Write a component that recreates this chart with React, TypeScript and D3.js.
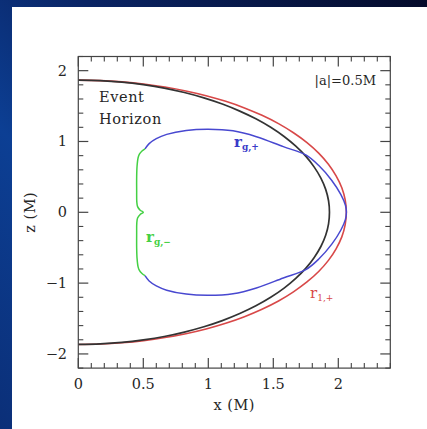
import React from "react";
import * as d3 from "d3";

// Event horizon (black), [x, z] in M
const horizonX = [0, 0.168, 0.336, 0.5, 0.661, 0.816, 0.966, 1.108, 1.242, 1.366, 1.48, 1.583, 1.673, 1.751, 1.815, 1.866, 1.903, 1.925, 1.932,
  1.925, 1.903, 1.866, 1.815, 1.751, 1.673, 1.583, 1.48, 1.366, 1.242, 1.108, 0.966, 0.816, 0.661, 0.5, 0.336, 0.168, 0];
const horizonZ = [1.866, 1.859, 1.838, 1.802, 1.754, 1.691, 1.616, 1.529, 1.429, 1.32, 1.2, 1.07, 0.933, 0.789, 0.638, 0.483, 0.324, 0.163, 0,
  -0.163, -0.324, -0.483, -0.638, -0.789, -0.933, -1.07, -1.2, -1.32, -1.429, -1.529, -1.616, -1.691, -1.754, -1.802, -1.838, -1.859, -1.866];

// r_{1,+} (red)
const ergoX = [0, 0.169, 0.336, 0.502, 0.666, 0.827, 0.983, 1.134, 1.278, 1.413, 1.54, 1.655, 1.759, 1.849, 1.924, 1.983, 2.027, 2.053, 2.062,
  2.053, 2.027, 1.983, 1.924, 1.849, 1.759, 1.655, 1.54, 1.413, 1.278, 1.134, 0.983, 0.827, 0.666, 0.502, 0.336, 0.169, 0];
const ergoZ = [1.866, 1.86, 1.842, 1.812, 1.769, 1.714, 1.647, 1.567, 1.474, 1.369, 1.252, 1.123, 0.984, 0.836, 0.679, 0.515, 0.347, 0.174, 0,
  -0.174, -0.347, -0.515, -0.679, -0.836, -0.984, -1.123, -1.252, -1.369, -1.474, -1.567, -1.647, -1.714, -1.769, -1.812, -1.842, -1.86, -1.866];

// r_{g,+} (blue)
const gPlusX = [0.513, 0.545, 0.6, 0.68, 0.83, 1.0, 1.19, 1.37, 1.577, 1.75, 1.85, 1.95, 2.02, 2.055, 2.062,
  2.055, 2.02, 1.95, 1.85, 1.75, 1.577, 1.37, 1.19, 1.0, 0.83, 0.68, 0.6, 0.545, 0.513];
const gPlusZ = [0.895, 0.97, 1.04, 1.1, 1.155, 1.172, 1.15, 1.068, 0.927, 0.81, 0.66, 0.45, 0.25, 0.1, 0,
  -0.1, -0.25, -0.45, -0.66, -0.81, -0.927, -1.068, -1.15, -1.172, -1.155, -1.1, -1.04, -0.97, -0.895];

// r_{g,-} (green)
const gMinusX = [0.513, 0.49, 0.47, 0.46, 0.452, 0.449, 0.449, 0.45, 0.456, 0.476, 0.5, 0.476, 0.456, 0.45, 0.449, 0.449, 0.452, 0.46, 0.47, 0.49, 0.513];
const gMinusZ = [0.895, 0.865, 0.82, 0.77, 0.65, 0.5, 0.3, 0.15, 0.08, 0.03, 0, -0.03, -0.08, -0.15, -0.3, -0.5, -0.65, -0.77, -0.82, -0.865, -0.895];

const xTicks = [0, 0.5, 1, 1.5, 2];
const xTickLabels = ["0", "0.5", "1", "1.5", "2"];
const zTicks = [-2, -1, 0, 1, 2];
const zTickLabels = ["\u22122", "\u22121", "0", "1", "2"];

const W = 427, H = 429;
const L = 78.3, R = 390.3, T = 56.5, B = 368.1;

export default function App() {
  const x = d3.scaleLinear().domain([0, 2.4]).range([L, R]);
  const y = d3.scaleLinear().domain([-2.2, 2.2]).range([B, T]);
  const line = d3.line<[number, number]>().x(d => x(d[0])).y(d => y(d[1])).curve(d3.curveCatmullRom);
  const pts = (xs: number[], zs: number[]) => xs.map((v, i) => [v, zs[i]] as [number, number]);

  const xMinor = d3.range(0, 2.41, 0.1).filter(v => Math.abs(v * 2 - Math.round(v * 2)) > 1e-6);
  const zMinor = d3.range(-2.2, 2.21, 0.2).filter(v => Math.abs(v - Math.round(v)) > 1e-6);
  const serif = "'DejaVu Serif', serif";
  const tickColor = "#444";
  const txt = "#262626";

  return (
    <div style={{ position: "absolute", left: 0, top: 0 }}>
      <svg width={W} height={H} style={{ display: "block" }}>
        <defs>
          <linearGradient id="bg" x1="0" y1="1" x2="1" y2="0">
            <stop offset="0" stopColor="#0b2f78" />
            <stop offset="0.35" stopColor="#0c3f94" />
            <stop offset="0.6" stopColor="#0a2464" />
            <stop offset="1" stopColor="#040a2a" />
          </linearGradient>
        </defs>
        <rect x={0} y={0} width={W} height={H} fill="url(#bg)" />
        <rect x={12} y={7} width={W - 12} height={H - 7} fill="#ffffff" />

        {/* curves */}
        <path d={line(pts(ergoX, ergoZ)) || ""} fill="none" stroke="#d84848" strokeWidth={1.6} />
        <path d={line(pts(horizonX, horizonZ)) || ""} fill="none" stroke="#333333" strokeWidth={1.7} />
        <path d={line(pts(gPlusX, gPlusZ)) || ""} fill="none" stroke="#4848d0" strokeWidth={1.5} />
        <path d={line(pts(gMinusX, gMinusZ)) || ""} fill="none" stroke="#44d044" strokeWidth={1.5} />

        {/* frame */}
        <rect x={L} y={T} width={R - L} height={B - T} fill="none" stroke={tickColor} strokeWidth={1.2} />

        {xTicks.map(v => (
          <g key={"xt" + v}>
            <line x1={x(v)} x2={x(v)} y1={B} y2={B - 10} stroke={tickColor} strokeWidth={1.2} />
            <line x1={x(v)} x2={x(v)} y1={T} y2={T + 10} stroke={tickColor} strokeWidth={1.2} />
          </g>
        ))}
        {xMinor.map(v => (
          <g key={"xm" + v}>
            <line x1={x(v)} x2={x(v)} y1={B} y2={B - 5} stroke={tickColor} strokeWidth={1.1} />
            <line x1={x(v)} x2={x(v)} y1={T} y2={T + 5} stroke={tickColor} strokeWidth={1.1} />
          </g>
        ))}
        {zTicks.map(v => (
          <g key={"zt" + v}>
            <line x1={L} x2={L + 10} y1={y(v)} y2={y(v)} stroke={tickColor} strokeWidth={1.2} />
            <line x1={R} x2={R - 10} y1={y(v)} y2={y(v)} stroke={tickColor} strokeWidth={1.2} />
          </g>
        ))}
        {zMinor.map(v => (
          <g key={"zm" + v}>
            <line x1={L} x2={L + 5} y1={y(v)} y2={y(v)} stroke={tickColor} strokeWidth={1.1} />
            <line x1={R} x2={R - 5} y1={y(v)} y2={y(v)} stroke={tickColor} strokeWidth={1.1} />
          </g>
        ))}

        {xTicks.map((v, i) => (
          <text key={"xl" + v} x={x(v)} y={389} textAnchor="middle" fontFamily={serif} fontSize={14.5} fill={txt}>{xTickLabels[i]}</text>
        ))}
        {zTicks.map((v, i) => (
          <text key={"zl" + v} x={67} y={y(v) + 5} textAnchor="end" fontFamily={serif} fontSize={14.5} fill={txt}>{zTickLabels[i]}</text>
        ))}

        <text x={(L + R) / 2} y={410} textAnchor="middle" fontFamily={serif} fontSize={14.5} fill={txt} letterSpacing={0.5}>x (M)</text>
        <text transform={`translate(35,${y(0)}) rotate(-90)`} textAnchor="middle" fontFamily={serif} fontSize={14.5} fill={txt} letterSpacing={0.5}>z (M)</text>

        <text x={99} y={102} fontFamily={serif} fontSize={14.5} fill={txt} letterSpacing={0.6}>Event</text>
        <text x={99} y={124} fontFamily={serif} fontSize={14.5} fill={txt} letterSpacing={0.6}>Horizon</text>
        <text x={376} y={85} textAnchor="end" fontFamily={serif} fontSize={13} fill={txt}>|a|=0.5M</text>

        <text x={234} y={147} fontFamily={serif} fontSize={15} fontWeight="bold" fill="#3a3ac8">r<tspan fontSize={9} dy={3}>g,+</tspan></text>
        <text x={146} y={242} fontFamily={serif} fontSize={15} fontWeight="bold" fill="#44d044">r<tspan fontSize={9} dy={3}>g,−</tspan></text>
        <text x={310} y={298} fontFamily={serif} fontSize={15} fill="#d84848">r<tspan fontSize={9} dy={3}>1,+</tspan></text>
      </svg>
    </div>
  );
}
